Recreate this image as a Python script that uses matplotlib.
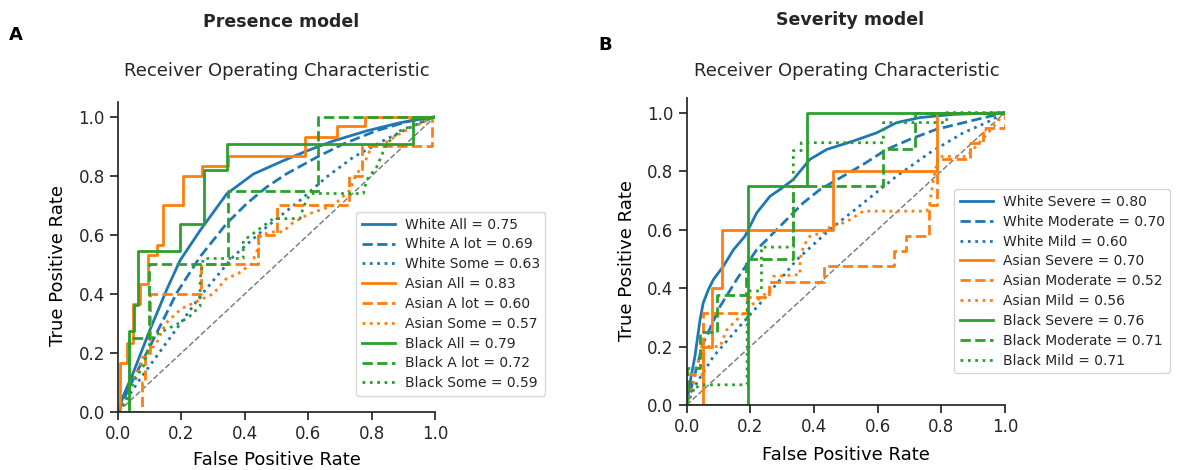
"""
ROC curves per race group: presence model (A) and severity model (B).
Curve vertices read off the published figure.
"""
import matplotlib as mpl
import matplotlib.pyplot as plt

# ── Colours / linestyles per group and level ─────────────────────────────
BLUE, ORANGE, GREEN = "#1f77b4", "#ff7f0e", "#2ca02c"
STYLES = ["-", "--", ":"]

# ── Presence model (panel A) ──────────────────────────────────────────────
PRES_LEVELS = ["All", "A lot", "Some"]
PRES_AUC = {
    "White": [0.75, 0.69, 0.63],
    "Asian": [0.83, 0.60, 0.57],
    "Black": [0.79, 0.72, 0.59],
}

pres_white_all_fpr = [0, 0.017, 0.048, 0.101, 0.153, 0.196, 0.259, 0.343, 0.427, 0.521, 0.595, 0.679, 0.784, 0.89, 1]
pres_white_all_tpr = [0, 0.055, 0.133, 0.279, 0.413, 0.514, 0.615, 0.739, 0.806, 0.851, 0.884, 0.918, 0.952, 0.98, 1]
pres_white_alot_fpr = [0, 0.048, 0.101, 0.185, 0.259, 0.343, 0.406, 0.469, 0.532, 0.627, 0.711, 0.816, 0.921, 1]
pres_white_alot_tpr = [0, 0.111, 0.223, 0.403, 0.526, 0.639, 0.706, 0.762, 0.807, 0.863, 0.908, 0.953, 0.986, 1]
pres_white_some_fpr = [0, 0.069, 0.153, 0.259, 0.364, 0.469, 0.574, 0.658, 0.742, 0.837, 0.921, 1]
pres_white_some_tpr = [0, 0.111, 0.235, 0.392, 0.527, 0.627, 0.717, 0.796, 0.863, 0.919, 0.964, 1]

pres_asian_all_fpr = [0, 0.006, 0.006, 0.027, 0.027, 0.048, 0.048, 0.069, 0.069, 0.095, 0.095, 0.122, 0.122,
                      0.142, 0.142, 0.205, 0.205, 0.265, 0.265, 0.347, 0.347, 0.59, 0.59, 0.69, 0.69, 0.78, 0.78, 1]
pres_asian_all_tpr = [0, 0, 0.167, 0.167, 0.233, 0.233, 0.367, 0.367, 0.433, 0.433, 0.533, 0.533, 0.567,
                      0.567, 0.70, 0.70, 0.80, 0.80, 0.833, 0.833, 0.867, 0.867, 0.933, 0.933, 0.967, 0.967, 1, 1]
pres_asian_alot_fpr = [0, 0.075, 0.075, 0.085, 0.085, 0.1, 0.1, 0.262, 0.262, 0.44, 0.44, 0.5, 0.5,
                       0.73, 0.73, 0.77, 0.77, 0.99, 0.99, 1]
pres_asian_alot_tpr = [0, 0, 0.1, 0.1, 0.2, 0.2, 0.4, 0.4, 0.5, 0.5, 0.6, 0.6, 0.7,
                       0.7, 0.8, 0.8, 0.9, 0.9, 1, 1]
pres_asian_some_fpr = [0, 0.02, 0.04, 0.08, 0.12, 0.15, 0.2, 0.24, 0.3, 0.34, 0.38, 0.42, 0.44, 0.45,
                       0.49, 0.52, 0.55, 0.6, 0.68, 0.73, 0.75, 0.78, 0.8, 0.84, 0.9, 1]
pres_asian_some_tpr = [0, 0.03, 0.08, 0.19, 0.23, 0.3, 0.35, 0.37, 0.4, 0.45, 0.47, 0.5, 0.55, 0.6,
                       0.61, 0.61, 0.64, 0.67, 0.7, 0.75, 0.8, 0.85, 0.9, 0.91, 0.95, 1]

pres_black_all_fpr = [0, 0.035, 0.035, 0.05, 0.05, 0.064, 0.064, 0.196, 0.196, 0.271, 0.271, 0.343, 0.343,
                      0.932, 0.932, 1]
pres_black_all_tpr = [0, 0, 0.273, 0.273, 0.364, 0.364, 0.545, 0.545, 0.636, 0.636, 0.818, 0.818, 0.909,
                      0.909, 1, 1]
pres_black_alot_fpr = [0, 0.035, 0.035, 0.099, 0.099, 0.348, 0.348, 0.632, 0.632, 1]
pres_black_alot_tpr = [0, 0, 0.25, 0.25, 0.5, 0.5, 0.75, 0.75, 1, 1]
pres_black_some_fpr = [0, 0.022, 0.048, 0.08, 0.101, 0.112, 0.153, 0.196, 0.227, 0.259, 0.259, 0.269, 0.395,
                       0.395, 0.427, 0.49, 0.574, 0.585, 0.606, 0.774, 0.784, 0.816, 0.847, 0.89, 1]
pres_black_some_tpr = [0, 0.034, 0.1, 0.156, 0.235, 0.258, 0.28, 0.303, 0.325, 0.359, 0.449, 0.52, 0.52,
                       0.58, 0.605, 0.655, 0.655, 0.695, 0.74, 0.74, 0.785, 0.83, 0.908, 0.953, 1]

# ── Severity model (panel B) ──────────────────────────────────────────────
SEV_LEVELS = ["Severe", "Moderate", "Mild"]
SEV_AUC = {
    "White": [0.80, 0.70, 0.60],
    "Asian": [0.70, 0.52, 0.56],
    "Black": [0.76, 0.71, 0.71],
}

sev_white_severe_fpr = [0, 0.010, 0.026, 0.042, 0.052, 0.068, 0.084, 0.115, 0.147, 0.183, 0.220, 0.262, 0.293,
                        0.335, 0.387, 0.44, 0.524, 0.597, 0.660, 0.733, 0.838, 1]
sev_white_severe_tpr = [0, 0.074, 0.166, 0.291, 0.349, 0.394, 0.429, 0.474, 0.531, 0.577, 0.657, 0.714, 0.737,
                        0.771, 0.84, 0.874, 0.903, 0.931, 0.966, 0.983, 0.994, 1]
sev_white_moderate_fpr = [0, 0.021, 0.052, 0.105, 0.157, 0.22, 0.293, 0.366, 0.419, 0.492, 0.555, 0.628, 0.702,
                          0.785, 0.89, 1]
sev_white_moderate_tpr = [0, 0.086, 0.211, 0.337, 0.429, 0.531, 0.611, 0.691, 0.737, 0.783, 0.823, 0.874, 0.909,
                          0.943, 0.971, 1]
sev_white_mild_fpr = [0, 0.031, 0.084, 0.157, 0.241, 0.346, 0.45, 0.555, 0.66, 0.764, 0.869, 0.942, 1]
sev_white_mild_tpr = [0, 0.074, 0.166, 0.257, 0.36, 0.497, 0.6, 0.691, 0.783, 0.863, 0.931, 0.966, 1]

sev_asian_severe_fpr = [0, 0.052, 0.052, 0.079, 0.079, 0.11, 0.11, 0.461, 0.461, 0.785, 0.785, 1]
sev_asian_severe_tpr = [0, 0, 0.2, 0.2, 0.4, 0.4, 0.6, 0.6, 0.8, 0.8, 1, 1]
sev_asian_moderate_fpr = [0, 0, 0.05, 0.05, 0.19, 0.19, 0.26, 0.26, 0.43, 0.43, 0.65, 0.65, 0.69, 0.69,
                          0.76, 0.76, 0.785, 0.785, 0.89, 0.89, 0.93, 0.93, 1, 1]
sev_asian_moderate_tpr = [0, 0.105, 0.105, 0.316, 0.316, 0.368, 0.368, 0.421, 0.421, 0.474, 0.474, 0.526,
                          0.526, 0.579, 0.579, 0.684, 0.684, 0.842, 0.842, 0.895, 0.895, 0.947, 0.947, 1]
sev_asian_mild_fpr = [0, 0.01, 0.021, 0.047, 0.105, 0.126, 0.157, 0.199, 0.262, 0.272, 0.356, 0.356, 0.367,
                      0.387, 0.44, 0.45, 0.492, 0.513, 0.555, 0.754, 0.764, 0.775, 0.79, 0.88, 0.93, 0.97, 1]
sev_asian_mild_tpr = [0, 0.04, 0.074, 0.2, 0.2, 0.257, 0.291, 0.337, 0.394, 0.44, 0.446, 0.497, 0.543,
                      0.577, 0.594, 0.611, 0.623, 0.634, 0.663, 0.663, 0.69, 0.77, 0.85, 0.85, 0.91, 0.96, 1]

sev_black_severe_fpr = [0, 0.194, 0.194, 0.379, 0.379, 1]
sev_black_severe_tpr = [0, 0, 0.75, 0.75, 1, 1]
sev_black_moderate_fpr = [0, 0, 0.042, 0.042, 0.094, 0.094, 0.188, 0.188, 0.335, 0.335, 0.618, 0.618,
                          0.717, 0.717, 1]
sev_black_moderate_tpr = [0, 0.125, 0.125, 0.25, 0.25, 0.375, 0.375, 0.5, 0.5, 0.75, 0.75, 0.875,
                          0.875, 1, 1]
sev_black_mild_fpr = [0, 0, 0.042, 0.19, 0.19, 0.235, 0.235, 0.335, 0.335, 0.36, 0.36, 0.618, 0.618,
                      0.817, 0.817, 1]
sev_black_mild_tpr = [0, 0.034, 0.069, 0.069, 0.39, 0.39, 0.54, 0.54, 0.87, 0.87, 0.897, 0.897, 0.966,
                      0.966, 1, 1]

PRES_CURVES = {
    "White": [(pres_white_all_fpr, pres_white_all_tpr),
              (pres_white_alot_fpr, pres_white_alot_tpr),
              (pres_white_some_fpr, pres_white_some_tpr)],
    "Asian": [(pres_asian_all_fpr, pres_asian_all_tpr),
              (pres_asian_alot_fpr, pres_asian_alot_tpr),
              (pres_asian_some_fpr, pres_asian_some_tpr)],
    "Black": [(pres_black_all_fpr, pres_black_all_tpr),
              (pres_black_alot_fpr, pres_black_alot_tpr),
              (pres_black_some_fpr, pres_black_some_tpr)],
}
SEV_CURVES = {
    "White": [(sev_white_severe_fpr, sev_white_severe_tpr),
              (sev_white_moderate_fpr, sev_white_moderate_tpr),
              (sev_white_mild_fpr, sev_white_mild_tpr)],
    "Asian": [(sev_asian_severe_fpr, sev_asian_severe_tpr),
              (sev_asian_moderate_fpr, sev_asian_moderate_tpr),
              (sev_asian_mild_fpr, sev_asian_mild_tpr)],
    "Black": [(sev_black_severe_fpr, sev_black_severe_tpr),
              (sev_black_moderate_fpr, sev_black_moderate_tpr),
              (sev_black_mild_fpr, sev_black_mild_tpr)],
}
GROUP_COLORS = {"White": BLUE, "Asian": ORANGE, "Black": GREEN}

# ── Global style ──────────────────────────────────────────────────────────
mpl.rcParams.update({
    "font.family": "DejaVu Sans",
    "axes.edgecolor": "#262626",
    "axes.linewidth": 1.25,
    "xtick.color": "#262626",
    "ytick.color": "#262626",
    "text.color": "#262626",
    "savefig.facecolor": "white",
})

fig = plt.figure(figsize=(11.79, 4.70), dpi=100)
ax_a = fig.add_axes([0.1001, 0.1234, 0.2689, 0.6596])
ax_b = fig.add_axes([0.5824, 0.1383, 0.2700, 0.6532])


def draw_panel(ax, curves, aucs, levels, legend_anchor):
    ax.plot([0, 1], [0, 1], color="gray", lw=1.1, ls="--")
    for group, pairs in curves.items():
        for (fpr, tpr), level, auc, ls in zip(pairs, levels, aucs[group], STYLES):
            ax.plot(fpr, tpr, color=GROUP_COLORS[group], ls=ls, lw=2,
                    label=f"{group} {level} = {auc:.2f}")
    ax.set_xlim(0, 1)
    ax.set_ylim(0, 1.05)
    ax.set_xticks([0, 0.2, 0.4, 0.6, 0.8, 1.0])
    ax.set_yticks([0, 0.2, 0.4, 0.6, 0.8, 1.0])
    ax.tick_params(direction="out", length=6, width=1.25, labelsize=12)
    ax.spines["top"].set_visible(False)
    ax.spines["right"].set_visible(False)
    ax.set_xlabel("False Positive Rate", fontsize=13)
    ax.set_ylabel("True Positive Rate", fontsize=13)
    ax.xaxis.label.set_va("center")
    ax.yaxis.label.set_va("center")
    ax.legend(loc="lower left", bbox_to_anchor=legend_anchor, borderaxespad=0,
              fontsize=10, labelspacing=0.42, handlelength=2.4, handletextpad=0.7,
              borderpad=0.4)


draw_panel(ax_a, PRES_CURVES, PRES_AUC, PRES_LEVELS, (0.751, 0.052))
draw_panel(ax_b, SEV_CURVES, SEV_AUC, SEV_LEVELS, (0.84, 0.104))

ax_a.xaxis.set_label_coords(0.502, -0.155)
ax_a.yaxis.set_label_coords(-0.189, 0.474)
ax_b.xaxis.set_label_coords(0.50, -0.163)
ax_b.yaxis.set_label_coords(-0.188, 0.472)

# ── Titles and panel letters ──────────────────────────────────────────────
W, H = 1179, 470
fig.text(277 / W, 1 - 71 / H, "Receiver Operating Characteristic", ha="center", va="center", fontsize=13)
fig.text(847 / W, 1 - 71 / H, "Receiver Operating Characteristic", ha="center", va="center", fontsize=13)
fig.text(281 / W, 1 - 22 / H, "Presence model", ha="center", va="center", fontsize=12.5, fontweight="bold")
fig.text(850 / W, 1 - 20 / H, "Severity model", ha="center", va="center", fontsize=12.5, fontweight="bold")
fig.text(16 / W, 1 - 35 / H, "A", ha="center", va="center", fontsize=13, fontweight="bold", color="black")
fig.text(605 / W, 1 - 45 / H, "B", ha="center", va="center", fontsize=13, fontweight="bold", color="black")

fig.savefig("out.png", dpi=100, facecolor="white")
